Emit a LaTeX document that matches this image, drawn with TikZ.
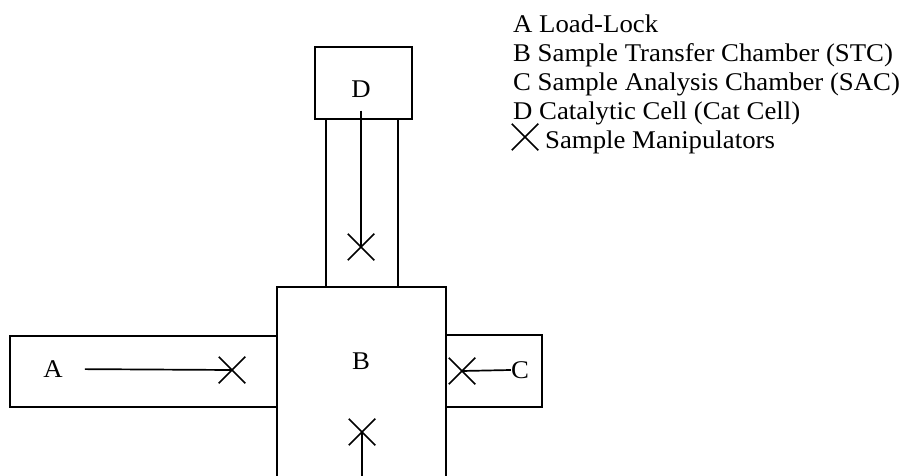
\documentclass[tikz,border=0pt]{standalone}
\usepackage{fontspec}
\setmainfont{Liberation Serif}
\newfontfamily\lgfont[FakeStretch=1.05]{Liberation Serif}
\usetikzlibrary{shapes.misc}
\begin{document}
\begin{tikzpicture}[x=1pt,y=-1pt,
  chamber/.style={draw,line width=2pt},
  manip/.style={cross out,draw,line width=1.5pt,minimum width=25pt,minimum height=25pt,inner sep=0pt},
  lab/.style={inner sep=0pt,font=\lgfont\fontsize{25.5}{29}\selectfont},
  legend/.style={anchor=base west,inner sep=0pt,font=\lgfont\fontsize{25.5}{29}\selectfont},
  rod/.style={line width=1.7pt}]
\useasboundingbox (0,0) rectangle (902,476);
% chambers
\draw[chamber] (315,47) rectangle (412,119);
\draw[chamber] (326,119) rectangle (398,287);
\draw[chamber] (277,477) -- (277,287) -- (446,287) -- (446,477);
\draw[chamber] (277,336) -- (10,336) -- (10,407) -- (277,407);
\draw[chamber] (446,335) -- (542,335) -- (542,407) -- (446,407);
% labels
\node[lab] (lD) at (361,89) {D};
\node[lab] (lA) at (53,369) {A};
\node[lab] (lB) at (361,361) {B};
\node[lab] (lC) at (520,370) {C};
% manipulators
\node[manip] (xD) at (361,247) {};
\node[manip] (xA) at (232,370) {};
\node[manip] (xC) at (462,371) {};
\node[manip] (xB) at (362,432) {};
\coordinate (bot) at (362,477);
% rods
\draw[rod,shorten <=13pt] (lD.south) -- (xD.center);
\draw[rod,shorten <=22pt] (lA.east) -- (xA.center);
\draw[rod] (xC.center) -- (lC.west);
\draw[rod] (xB.center) -- (bot);
% legend
\node[legend] (l1) at (513,33) {A Load-Lock};
\node[legend] (l2) at (513,62) {B Sample Transfer Chamber (STC)};
\node[legend] (l3) at (513,91) {C Sample Analysis Chamber (SAC)};
\node[legend] (l4) at (513,120) {D Catalytic Cell (Cat Cell)};
\node[manip] (lx) at (525,137) {};
\node[legend] (l5) at (545,149) {Sample Manipulators};
\end{tikzpicture}
\end{document}
